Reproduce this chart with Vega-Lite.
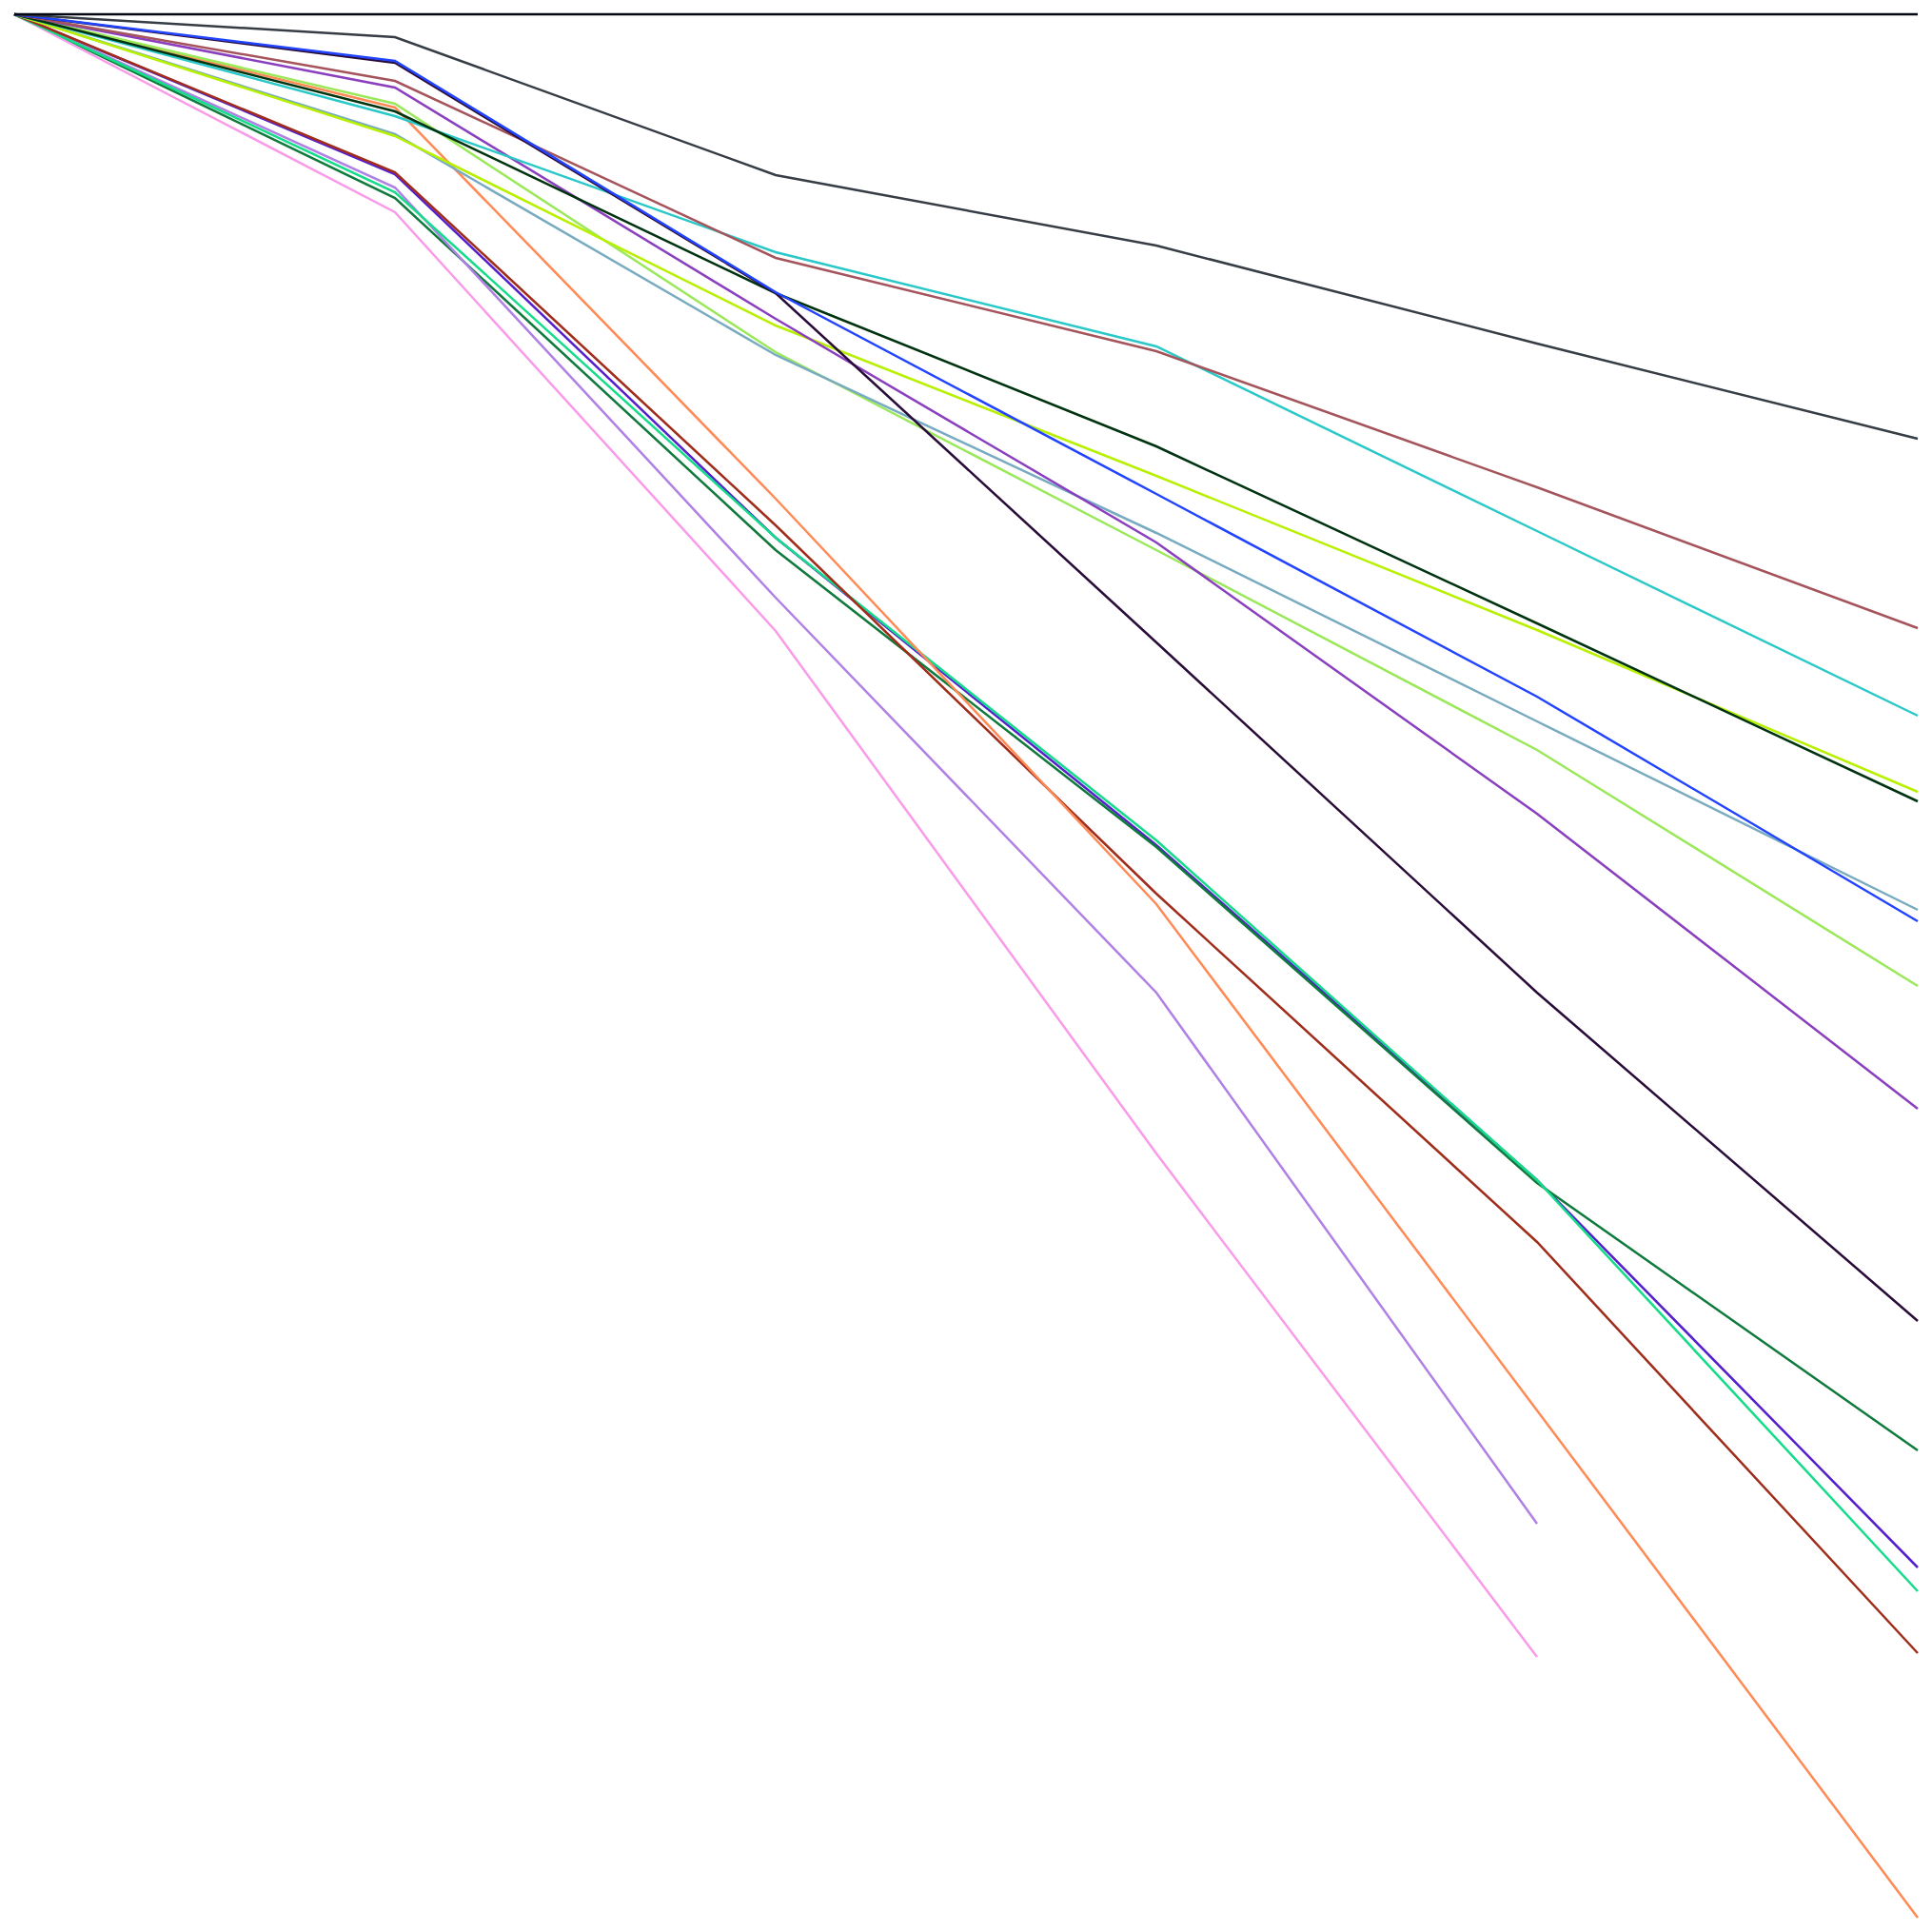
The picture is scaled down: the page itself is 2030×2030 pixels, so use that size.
{
  "$schema": "https://vega.github.io/schema/vega-lite/v6.json",
  "width": 2000,
  "height": 2000,
  "padding": 15,
  "autosize": "none",
  "background": "white",
  "config": {"view": {"stroke": null}},
  "data": {"values": [
    {"s": "s01", "i": 0, "v": 0}, {"s": "s01", "i": 1, "v": -168}, {"s": "s01", "i": 2, "v": -550}, {"s": "s01", "i": 3, "v": -873}, {"s": "s01", "i": 4, "v": -1225}, {"s": "s01", "i": 5, "v": -1632},
    {"s": "s02", "i": 0, "v": 0}, {"s": "s02", "i": 1, "v": -193}, {"s": "s02", "i": 2, "v": -563}, {"s": "s02", "i": 3, "v": -875}, {"s": "s02", "i": 4, "v": -1228}, {"s": "s02", "i": 5, "v": -1509},
    {"s": "s03", "i": 0, "v": 0}, {"s": "s03", "i": 1, "v": -182}, {"s": "s03", "i": 2, "v": -613}, {"s": "s03", "i": 3, "v": -1028}, {"s": "s03", "i": 4, "v": -1586},
    {"s": "s04", "i": 0, "v": 0}, {"s": "s04", "i": 1, "v": -208}, {"s": "s04", "i": 2, "v": -648}, {"s": "s04", "i": 3, "v": -1197}, {"s": "s04", "i": 4, "v": -1726},
    {"s": "s05", "i": 0, "v": 0}, {"s": "s05", "i": 1, "v": -187}, {"s": "s05", "i": 2, "v": -550}, {"s": "s05", "i": 3, "v": -868}, {"s": "s05", "i": 4, "v": -1225}, {"s": "s05", "i": 5, "v": -1657},
    {"s": "s06", "i": 0, "v": 0}, {"s": "s06", "i": 1, "v": -166}, {"s": "s06", "i": 2, "v": -537}, {"s": "s06", "i": 3, "v": -924}, {"s": "s06", "i": 4, "v": -1290}, {"s": "s06", "i": 5, "v": -1722},
    {"s": "s07", "i": 0, "v": 0}, {"s": "s07", "i": 1, "v": -98}, {"s": "s07", "i": 2, "v": -509}, {"s": "s07", "i": 3, "v": -935}, {"s": "s07", "i": 4, "v": -1467}, {"s": "s07", "i": 5, "v": -2000},
    {"s": "s08", "i": 0, "v": 0}, {"s": "s08", "i": 1, "v": -94}, {"s": "s08", "i": 2, "v": -355}, {"s": "s08", "i": 3, "v": -563}, {"s": "s08", "i": 4, "v": -773}, {"s": "s08", "i": 5, "v": -1021},
    {"s": "s09", "i": 0, "v": 0}, {"s": "s09", "i": 1, "v": -126}, {"s": "s09", "i": 2, "v": -358}, {"s": "s09", "i": 3, "v": -545}, {"s": "s09", "i": 4, "v": -743}, {"s": "s09", "i": 5, "v": -941},
    {"s": "s10", "i": 0, "v": 0}, {"s": "s10", "i": 1, "v": -128}, {"s": "s10", "i": 2, "v": -327}, {"s": "s10", "i": 3, "v": -485}, {"s": "s10", "i": 4, "v": -647}, {"s": "s10", "i": 5, "v": -817},
    {"s": "s11", "i": 0, "v": 0}, {"s": "s11", "i": 1, "v": -77}, {"s": "s11", "i": 2, "v": -320}, {"s": "s11", "i": 3, "v": -555}, {"s": "s11", "i": 4, "v": -840}, {"s": "s11", "i": 5, "v": -1150},
    {"s": "s12", "i": 0, "v": 0}, {"s": "s12", "i": 1, "v": -107}, {"s": "s12", "i": 2, "v": -250}, {"s": "s12", "i": 3, "v": -349}, {"s": "s12", "i": 4, "v": -543}, {"s": "s12", "i": 5, "v": -737},
    {"s": "s13", "i": 0, "v": 0}, {"s": "s13", "i": 1, "v": -102}, {"s": "s13", "i": 2, "v": -293}, {"s": "s13", "i": 3, "v": -454}, {"s": "s13", "i": 4, "v": -640}, {"s": "s13", "i": 5, "v": -827},
    {"s": "s14", "i": 0, "v": 0}, {"s": "s14", "i": 1, "v": -70}, {"s": "s14", "i": 2, "v": -256}, {"s": "s14", "i": 3, "v": -354}, {"s": "s14", "i": 4, "v": -497}, {"s": "s14", "i": 5, "v": -645},
    {"s": "s15", "i": 0, "v": 0}, {"s": "s15", "i": 1, "v": -51}, {"s": "s15", "i": 2, "v": -293}, {"s": "s15", "i": 3, "v": -660}, {"s": "s15", "i": 4, "v": -1028}, {"s": "s15", "i": 5, "v": -1373},
    {"s": "s16", "i": 0, "v": 0}, {"s": "s16", "i": 1, "v": -49}, {"s": "s16", "i": 2, "v": -292}, {"s": "s16", "i": 3, "v": -504}, {"s": "s16", "i": 4, "v": -717}, {"s": "s16", "i": 5, "v": -953},
    {"s": "s17", "i": 0, "v": 0}, {"s": "s17", "i": 1, "v": -24}, {"s": "s17", "i": 2, "v": -169}, {"s": "s17", "i": 3, "v": -243}, {"s": "s17", "i": 4, "v": -346}, {"s": "s17", "i": 5, "v": -446},
    {"s": "s18", "i": 0, "v": 0}, {"s": "s18", "i": 1, "v": 0}, {"s": "s18", "i": 2, "v": 0}, {"s": "s18", "i": 3, "v": 0}, {"s": "s18", "i": 4, "v": 0}, {"s": "s18", "i": 5, "v": 0}
  ]},
  "mark": {"type": "line", "strokeWidth": 2.5, "clip": false},
  "encoding": {
    "x": {"field": "i", "type": "quantitative", "scale": {"domain": [0, 5], "nice": false, "zero": false}, "axis": null},
    "y": {"field": "v", "type": "quantitative", "scale": {"domain": [-2000, 0], "nice": false, "zero": false}, "axis": null},
    "color": {
      "field": "s", "type": "nominal", "legend": null,
      "scale": {
        "domain": ["s01","s02","s03","s04","s05","s06","s07","s08","s09","s10","s11","s12","s13","s14","s15","s16","s17","s18"],
        "range": ["#5520cc","#0f7a3c","#b080e5","#f99be9","#14dc8a","#a02d1c","#ff8a55","#9be85a","#78abc0","#b8f000","#8a3fbf","#2ac8c8","#00330f","#a5545c","#2a0c38","#2244ff","#363d45","#050814"]
      }
    },
    "order": {"field": "i", "type": "quantitative"}
  }
}
